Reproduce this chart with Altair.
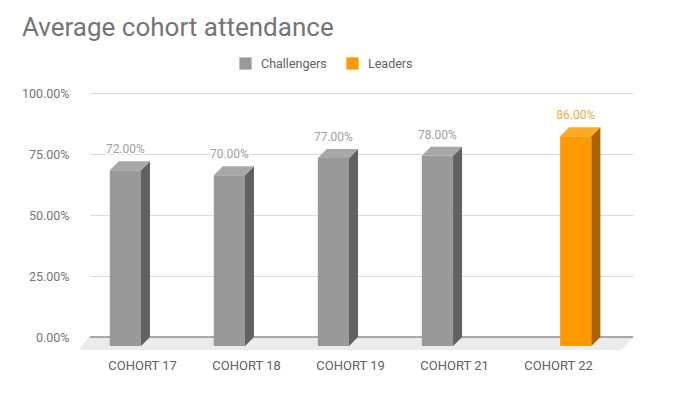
import altair as alt
import pandas as pd

title_text = "Average cohort attendance"
categories = ["COHORT 17", "COHORT 18", "COHORT 19", "COHORT 21", "COHORT 22"]
bar_series = ["Challengers", "Challengers", "Challengers", "Challengers", "Leaders"]
values = [0.72, 0.70, 0.77, 0.78, 0.86]
series_names = ["Challengers", "Leaders"]
front_colors = ["#999999", "#ff9900"]
side_colors = ["#616161", "#a86400"]
top_colors = ["#a8a8a8", "#ffa826"]
label_colors = ["#9e9e9e", "#efac3a"]
y_ticks = [0, 0.25, 0.5, 0.75, 1.0]

FONT = "Roboto"
W, H = 543, 244
X_MAX = 5.22
ux = X_MAX / W          # x data units per pixel
uy = 1.0 / H            # y data units per pixel
DX, DY = 9 * ux, 9 * uy  # 3D depth of the bars
SLOT0, SLOT_STEP, BAR_W = 0.19, 0.33, 0.30

front_rows, side_rows, top_rows, label_rows = [], [], [], []
for i, (cat, ser, v) in enumerate(zip(categories, bar_series, values)):
    s = series_names.index(ser)
    x0 = i + SLOT0 + SLOT_STEP * s
    x1 = x0 + BAR_W
    for x, y, y2 in [(x0, v - DY, -DY), (x1, v - DY, -DY)]:
        front_rows.append(dict(pid=cat, series=ser, x=x, y=y, y2=y2))
    for x, y, y2 in [(x1, v - DY, -DY), (x1 + DX, v, 0)]:
        side_rows.append(dict(pid=cat, series=ser, x=x, y=y, y2=y2))
    for x, y, y2 in [(x0, v - DY, v - DY), (x0 + DX, v, v - DY), (x1, v, v - DY), (x1 + DX, v, v)]:
        top_rows.append(dict(pid=cat, series=ser, x=x, y=y, y2=y2))
    label_rows.append(dict(series=ser, x=(x0 + x1) / 2, v=v))

FD = 13 * uy
floor_df = pd.DataFrame([
    dict(x=-11 * ux, y=-FD, y2=-FD),
    dict(x=-1 * ux, y=0, y2=-FD),
    dict(x=X_MAX - 11 * ux, y=0, y2=-FD),
    dict(x=X_MAX, y=0, y2=0),
])

xscale = alt.Scale(domain=[0, X_MAX], nice=False, zero=False)
yscale = alt.Scale(domain=[0, 1], nice=False, zero=False)
cat_list = "[" + ",".join("'" + c + "'" for c in categories) + "]"
xaxis = alt.Axis(values=[i + 0.5 for i in range(len(categories))],
                 labelExpr=cat_list + "[floor(datum.value)]",
                 domain=False, ticks=False, grid=False, title=None,
                 labelFont=FONT, labelFontSize=13, labelColor="#616161",
                 labelPadding=22)
yaxis = alt.Axis(values=y_ticks, format=".2%", domain=False, ticks=False,
                 grid=True, gridColor="#dadada", title=None,
                 labelFont=FONT, labelFontSize=12.5, labelColor="#757575",
                 labelPadding=21)


def X(f="x"):
    return alt.X(f + ":Q", scale=xscale, axis=xaxis)


def Y(f="y"):
    return alt.Y(f + ":Q", scale=yscale, axis=yaxis)


floor = alt.Chart(floor_df).mark_area(color="#ebebeb", orient="vertical", opacity=1).encode(
    x=X(), y=Y(), y2="y2")
zero_rule = alt.Chart(pd.DataFrame({"y": [0]})).mark_rule(color="#5a5a5a", strokeWidth=1.2).encode(y=Y())

front = alt.Chart(pd.DataFrame(front_rows)).mark_area(orient="vertical", opacity=1).encode(
    x=X(), y=Y(), y2="y2", detail="pid:N",
    color=alt.Color("series:N", scale=alt.Scale(domain=series_names, range=front_colors),
                    legend=alt.Legend(title=None, orient="none", legendX=149, legendY=-36,
                                      direction="horizontal", symbolType="square",
                                      symbolSize=150, symbolStrokeWidth=0,
                                      labelFont=FONT, labelFontSize=12.5, labelColor="#616161",
                                      columnPadding=19, labelOffset=9, padding=0)))
side = alt.Chart(pd.DataFrame(side_rows)).mark_area(orient="vertical", opacity=1).encode(
    x=X(), y=Y(), y2="y2", detail="pid:N",
    color=alt.Color("series:N", scale=alt.Scale(domain=series_names, range=side_colors), legend=None))
top = alt.Chart(pd.DataFrame(top_rows)).mark_area(orient="vertical", opacity=1).encode(
    x=X(), y=Y(), y2="y2", detail="pid:N",
    color=alt.Color("series:N", scale=alt.Scale(domain=series_names, range=top_colors), legend=None))

labels_df = pd.DataFrame(label_rows)
halo = alt.Chart(labels_df).mark_text(font=FONT, fontSize=12, dy=-12, stroke="white",
                                      strokeWidth=3, color="white").encode(
    x=X(), y=Y("v"), text=alt.Text("v:Q", format=".2%"))
labels = alt.Chart(labels_df).mark_text(font=FONT, fontSize=12, dy=-12).encode(
    x=X(), y=Y("v"), text=alt.Text("v:Q", format=".2%"),
    color=alt.Color("series:N", scale=alt.Scale(domain=series_names, range=label_colors), legend=None))

chart = alt.layer(floor, zero_rule, front, side, top, halo, labels).resolve_scale(
    color="independent"
).properties(
    width=W, height=H,
    title=alt.TitleParams(title_text, anchor="start", frame="group", dx=-68, dy=-12,
                          font=FONT, fontSize=26, fontWeight="normal", color="#757575"),
    padding={"left": 82, "top": 85, "right": 47, "bottom": 52},
    autosize=alt.AutoSizeParams(type="none"),
).configure_view(stroke=None)

chart.save("out.html", embed_options={"renderer": "svg", "actions": False})
